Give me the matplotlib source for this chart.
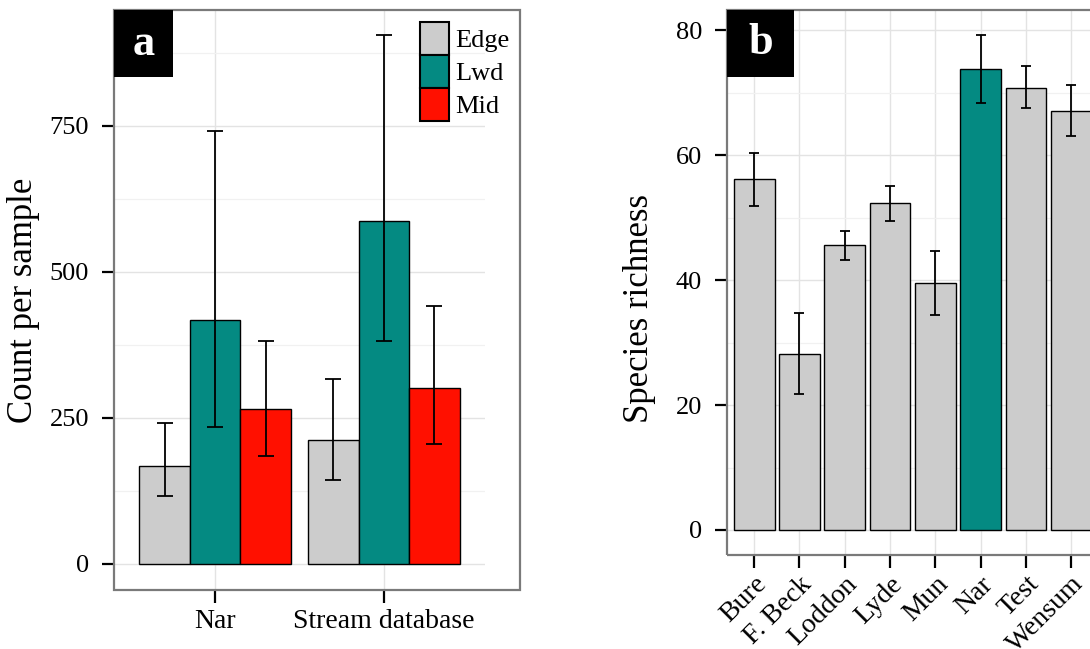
import matplotlib.pyplot as plt
import numpy as np
from matplotlib.patches import Patch, Rectangle

plt.rcParams['font.family'] = ['Liberation Serif', 'DejaVu Serif']

# panel a: count per sample
sites = ['Nar', 'Stream database']
habitats = ['Edge', 'Lwd', 'Mid']
count_mean = {'Edge': [168, 213], 'Lwd': [418, 587], 'Mid': [266, 301]}
count_lo = {'Edge': [117, 143], 'Lwd': [235, 381], 'Mid': [185, 205]}
count_hi = {'Edge': [241, 317], 'Lwd': [741, 905], 'Mid': [381, 442]}

# panel b: species richness per river
rivers = ['Bure', 'F. Beck', 'Loddon', 'Lyde', 'Mun', 'Nar', 'Test', 'Wensum']
richness = [56.1, 28.2, 45.6, 52.4, 39.5, 73.8, 70.8, 67.1]
rich_lo = [51.9, 21.8, 43.2, 49.5, 34.4, 68.4, 67.5, 63.0]
rich_hi = [60.4, 34.7, 47.9, 55.0, 44.7, 79.2, 74.3, 71.2]

colors = {'Edge': '#CCCCCC', 'Lwd': '#048A82', 'Mid': '#FF1000'}
highlight = 'Nar'

W, H = 1090, 649


def fbox(x0, y0, x1, y1):
    # pixel box (top-left origin) -> figure fraction [l, b, w, h]
    return [x0 / W, 1 - y1 / H, (x1 - x0) / W, (y1 - y0) / H]


def style_axes(ax, major, minor):
    for s in ax.spines.values():
        s.set_visible(False)
    ax.set_yticks(major)
    ax.set_yticks(minor, minor=True)
    ax.grid(True, which='major', color='#E3E3E3', lw=1.0)
    ax.grid(True, which='minor', axis='y', color='#F1F1F1', lw=0.9)
    ax.set_axisbelow(True)
    ax.tick_params(which='major', direction='out', length=9, width=1.6,
                   color='black', labelsize=19)
    ax.tick_params(which='minor', length=0)
    ax.tick_params(axis='y', pad=9)
    ax.tick_params(axis='x', pad=5)


fig = plt.figure(figsize=(W / 100, H / 100), dpi=100)

# ---- panel a
ax = fig.add_axes(fbox(114, 10, 485, 590))
x = np.arange(1, len(sites) + 1)
for i, hb in enumerate(habitats):
    xs = x + (i - 1) * 0.3
    m = np.array(count_mean[hb])
    ax.bar(xs, m, width=0.3, color=colors[hb], edgecolor='black', lw=1.0, zorder=2)
    ax.errorbar(xs, m, yerr=[m - np.array(count_lo[hb]), np.array(count_hi[hb]) - m],
                fmt='none', ecolor='black', elinewidth=1.3, capsize=5.5, capthick=1.3, zorder=3)
ax.set_xlim(0.4, 2.6)
ax.set_ylim(-44.5, 948)
style_axes(ax, [0, 250, 500, 750], [125, 375, 625, 875])
ax.set_xticks(x)
ax.set_xticklabels(sites)
ax.tick_params(axis='x', labelsize=20)
fig.patches.append(Rectangle((114 / W, 1 - 590 / H), 406 / W, 580 / H, transform=fig.transFigure,
                             fill=False, edgecolor='#7A7A7A', lw=1.6, zorder=5))
fig.text(24 / W, 1 - 300 / H, 'Count per sample', rotation=90, ha='center', va='center', fontsize=25)
fig.patches.append(Rectangle((114 / W, 1 - 77 / H), 59 / W, 67 / H, transform=fig.transFigure,
                             facecolor='black', edgecolor='none', zorder=6))
fig.text(143.5 / W, 1 - 44 / H, 'a', color='white', fontsize=32, fontweight='bold',
         ha='center', va='center', zorder=7)
handles = [Patch(facecolor=colors[hb], edgecolor='black', lw=1.5) for hb in habitats]
fig.legend(handles, habitats, loc='upper left', bbox_to_anchor=(420 / W, 1 - 22 / H),
           frameon=False, fontsize=19, handlelength=1.1, handleheight=1.55,
           labelspacing=0.0, handletextpad=0.25, borderpad=0, borderaxespad=0)

# ---- panel b
bx = fig.add_axes(fbox(727, 10, 727 + 8.2 * 45.3, 555))
xr = np.arange(1, len(rivers) + 1)
rich = np.array(richness)
bcols = [colors['Lwd'] if r == highlight else colors['Edge'] for r in rivers]
bx.bar(xr, rich, width=0.9, color=bcols, edgecolor='black', lw=1.0, zorder=2)
bx.errorbar(xr, rich, yerr=[rich - np.array(rich_lo), np.array(rich_hi) - rich],
            fmt='none', ecolor='black', elinewidth=1.3, capsize=3.3, capthick=1.3, zorder=3)
bx.set_xlim(0.4, 8.6)
bx.set_ylim(-4.0, 83.2)
style_axes(bx, [0, 20, 40, 60, 80], [10, 30, 50, 70])
bx.set_xticks(xr)
bx.set_xticklabels(rivers, rotation=45, ha='right', va='top', rotation_mode='anchor')
bx.tick_params(axis='x', pad=3, labelsize=20)
fig.patches.append(Rectangle((727 / W, 1 - 555 / H), 400 / W, 545 / H, transform=fig.transFigure,
                             fill=False, edgecolor='#7A7A7A', lw=1.6, zorder=5))
fig.text(640 / W, 1 - 308 / H, 'Species richness', rotation=90, ha='center', va='center', fontsize=25)
fig.patches.append(Rectangle((727 / W, 1 - 77 / H), 67 / W, 67 / H, transform=fig.transFigure,
                             facecolor='black', edgecolor='none', zorder=6))
fig.text(760.5 / W, 1 - 43 / H, 'b', color='white', fontsize=32, fontweight='bold',
         ha='center', va='center', zorder=7)

fig.savefig('out.png', dpi=100)
